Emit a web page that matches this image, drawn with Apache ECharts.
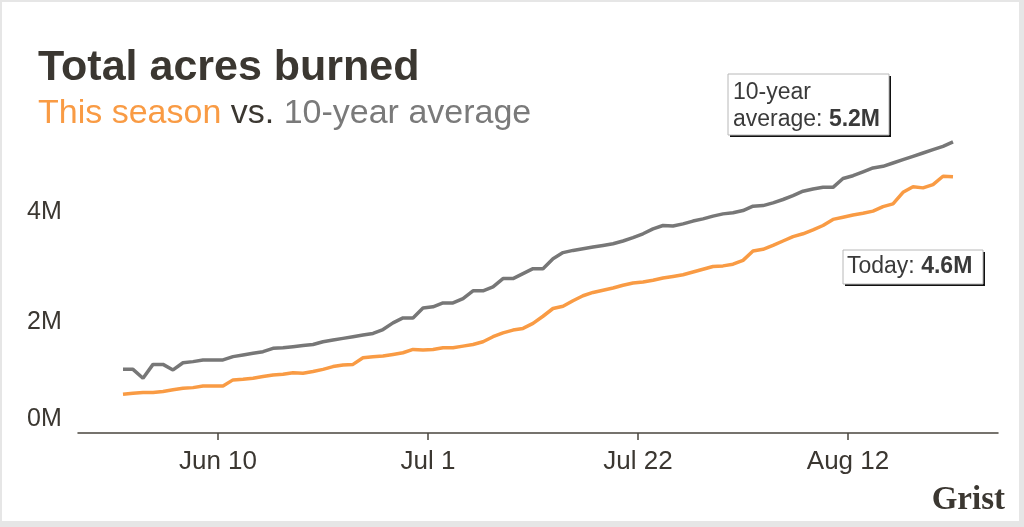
<!DOCTYPE html>
<html>
<head>
<meta charset="utf-8">
<script src="https://cdn.jsdelivr.net/npm/echarts@6/dist/echarts.min.js"></script>
<style>
  body { margin: 0; background: #fff; }
  #wrap { position: relative; width: 1024px; height: 527px; }
  #chart { width: 1024px; height: 527px; }
  #frame {
    position: absolute; left: 0; top: 0; right: 0; bottom: 0;
    border-style: solid; border-color: #e6e6e6;
    border-width: 2px 5px 6px 2px; pointer-events: none;
  }
</style>
</head>
<body>
<div id="wrap">
  <div id="chart"></div>
  <div id="frame"></div>
</div>
<script>
// daily totals, million acres, starting May 31
const startDay = '2024-05-31'
const avgAcres = [
  1.15, 1.15, 0.99, 1.24, 1.24, 1.14, 1.27, 1.29, 1.32, 1.32,
  1.32, 1.38, 1.41, 1.44, 1.47, 1.53, 1.54, 1.56, 1.58, 1.60,
  1.65, 1.68, 1.71, 1.74, 1.77, 1.80, 1.87, 1.99, 2.08, 2.08,
  2.26, 2.28, 2.35, 2.35, 2.43, 2.57, 2.57, 2.64, 2.79, 2.79,
  2.88, 2.97, 2.97, 3.15, 3.26, 3.30, 3.33, 3.36, 3.39, 3.42,
  3.47, 3.53, 3.60, 3.69, 3.75, 3.74, 3.78, 3.83, 3.87, 3.92,
  3.96, 3.98, 4.02, 4.10, 4.11, 4.16, 4.22, 4.29, 4.37, 4.41,
  4.44, 4.44, 4.60, 4.65, 4.72, 4.79, 4.82, 4.88, 4.94, 5.00,
  5.06, 5.12, 5.18, 5.26
]
const seasonAcres = [
  0.70, 0.72, 0.73, 0.73, 0.75, 0.78, 0.81, 0.82, 0.85, 0.85,
  0.85, 0.96, 0.97, 0.99, 1.02, 1.05, 1.06, 1.09, 1.08, 1.11,
  1.15, 1.20, 1.23, 1.24, 1.36, 1.38, 1.39, 1.42, 1.45, 1.51,
  1.50, 1.51, 1.54, 1.54, 1.57, 1.60, 1.65, 1.74, 1.81, 1.86,
  1.89, 1.98, 2.11, 2.25, 2.29, 2.39, 2.48, 2.54, 2.58, 2.62,
  2.67, 2.71, 2.73, 2.76, 2.80, 2.83, 2.86, 2.91, 2.96, 3.01,
  3.02, 3.05, 3.12, 3.29, 3.32, 3.39, 3.47, 3.55, 3.60, 3.67,
  3.75, 3.86, 3.90, 3.94, 3.97, 4.01, 4.09, 4.14, 4.35, 4.45,
  4.43, 4.49, 4.64, 4.63
]
const tickDates = ['2024-06-10', '2024-07-01', '2024-07-22', '2024-08-12']
const yTicks = [0, 2, 4]

const months = ['Jan', 'Feb', 'Mar', 'Apr', 'May', 'Jun', 'Jul', 'Aug', 'Sep', 'Oct', 'Nov', 'Dec']
const DAY = 24 * 3600 * 1000
const t0 = +new Date(startDay + 'T12:00:00')
const toSeries = arr => arr.map((v, i) => [t0 + i * DAY, v])
const tickValues = tickDates.map(d => +new Date(d + 'T00:00:00'))

const textColor = '#3b3731'
const font = "'Liberation Sans', Arial, sans-serif"

const chart = echarts.init(document.getElementById('chart'))
chart.setOption({
  animation: false,
  backgroundColor: '#fff',
  grid: { left: 78, right: 26, top: 101, bottom: 94 },
  xAxis: {
    type: 'value',
    min: +new Date('2024-05-27T00:00:00'),
    max: +new Date('2024-08-27T00:00:00'),
    splitLine: { show: false },
    axisLine: { lineStyle: { color: '#4a453e', width: 1.5 } },
    axisTick: { show: true, length: 7, lineStyle: { color: '#4a453e', width: 1.5 }, customValues: tickValues },
    axisLabel: {
      customValues: tickValues,
      margin: 16,
      color: textColor,
      fontFamily: font,
      fontSize: 26,
      formatter: v => {
        const d = new Date(v)
        return months[d.getMonth()] + ' ' + d.getDate()
      }
    }
  },
  yAxis: {
    type: 'value',
    min: 0,
    max: 6,
    interval: 2,
    splitLine: { show: false },
    axisLine: { show: false },
    axisTick: { show: false },
    axisLabel: {
      align: 'left',
      margin: 51,
      color: textColor,
      fontFamily: font,
      fontSize: 25,
      formatter: v => {
        if (yTicks.indexOf(v) < 0) return ''
        return v === 0 ? '{z|0M}' : v + 'M'
      },
      rich: {
        z: { padding: [0, 0, 28, 0], fontSize: 25, color: textColor, fontFamily: font }
      }
    }
  },
  series: [
    {
      name: '10-year average',
      type: 'line',
      data: toSeries(avgAcres),
      showSymbol: false,
      lineStyle: { color: '#777777', width: 3.5 },
      itemStyle: { color: '#777777' }
    },
    {
      name: 'This season',
      type: 'line',
      data: toSeries(seasonAcres),
      showSymbol: false,
      lineStyle: { color: '#f99b44', width: 3.5 },
      itemStyle: { color: '#f99b44' }
    }
  ],
  graphic: [
    {
      type: 'text', left: 38, top: 47,
      style: { text: 'Total acres burned', fill: textColor, font: "bold 43px 'Liberation Sans', Arial, sans-serif" }
    },
    {
      type: 'text', left: 38, top: 97,
      style: {
        text: '{o|This season} {d|vs.} {g|10-year average}',
        font: "34px 'Liberation Sans', Arial, sans-serif",
        rich: {
          o: { fill: '#f99b44', font: "34px 'Liberation Sans', Arial, sans-serif" },
          d: { fill: textColor, font: "34px 'Liberation Sans', Arial, sans-serif" },
          g: { fill: '#7a7a7a', font: "34px 'Liberation Sans', Arial, sans-serif" }
        }
      }
    },
    // 10-year average callout
    { type: 'rect', shape: { x: 730, y: 76, width: 161, height: 61 }, style: { fill: '#111' } },
    { type: 'rect', shape: { x: 728, y: 74, width: 161, height: 61 }, style: { fill: '#fff', stroke: '#b8b8b8', lineWidth: 1 } },
    {
      type: 'text', x: 733, y: 79,
      style: {
        text: '{n|10-year}\n{n|average: }{b|5.2M}',
        rich: {
          n: { fill: '#3a3a3a', font: "23px 'Liberation Sans', Arial, sans-serif", lineHeight: 27 },
          b: { fill: '#3a3a3a', font: "bold 23px 'Liberation Sans', Arial, sans-serif", lineHeight: 27 }
        }
      }
    },
    // today callout
    { type: 'rect', shape: { x: 845, y: 252, width: 140, height: 34 }, style: { fill: '#111' } },
    { type: 'rect', shape: { x: 843, y: 250, width: 140, height: 34 }, style: { fill: '#fff', stroke: '#b8b8b8', lineWidth: 1 } },
    {
      type: 'text', x: 847, y: 254,
      style: {
        text: '{n|Today: }{b|4.6M}',
        rich: {
          n: { fill: '#3a3a3a', font: "23px 'Liberation Sans', Arial, sans-serif", lineHeight: 26 },
          b: { fill: '#3a3a3a', font: "bold 23px 'Liberation Sans', Arial, sans-serif", lineHeight: 26 }
        }
      }
    },
    {
      type: 'text', right: 19, top: 484,
      style: { text: 'Grist', fill: '#3b3731', font: "bold 33px 'Liberation Serif', 'DejaVu Serif', serif" }
    }
  ]
})
</script>
</body>
</html>
